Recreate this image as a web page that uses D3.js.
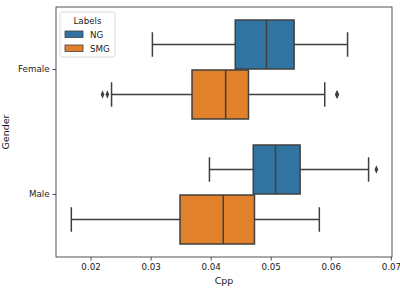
<!DOCTYPE html>
<html>
<head>
<meta charset="utf-8">
<script src="https://cdn.jsdelivr.net/npm/d3@7"></script>
<style>
  body { margin: 0; background: #fff; }
  text { font-family: "DejaVu Sans", sans-serif; fill: #1a1a1a; }
</style>
</head>
<body>
<div id="chart"></div>
<script>
// categories and hue labels
var genders = ["Female", "Male"];
var labels = ["NG", "SMG"];
var colors = ["#3274a1", "#e1812c"];
var xTicks = [0.02, 0.03, 0.04, 0.05, 0.06, 0.07];

// box stats per gender: [whiskerLow, q1, median, q3, whiskerHigh]
var ngStats = [
  [0.0303, 0.0441, 0.0493, 0.0539, 0.0628],
  [0.0398, 0.0471, 0.0508, 0.0549, 0.0663]
];
var smgStats = [
  [0.0235, 0.0369, 0.0425, 0.0463, 0.0590],
  [0.0168, 0.0349, 0.0421, 0.0473, 0.0581]
];
var ngOutliers = [[], [0.0676]];
var smgOutliers = [[0.0220, 0.0228, 0.0610, 0.0611], []];

var W = 400, H = 289;
var margin = {top: 7, right: 8, bottom: 32, left: 56};
var width = W - margin.left - margin.right,
    height = H - margin.top - margin.bottom;

var svg = d3.select("#chart").append("svg")
    .attr("width", W).attr("height", H)
  .append("g")
    .attr("transform", "translate(" + margin.left + "," + margin.top + ")");

var x = d3.scaleLinear().domain([0.01425, 0.0702]).range([0, width]);
var y = d3.scaleBand().domain(genders).range([0, height]);
var hue = d3.scaleBand().domain(labels).range([0, y.bandwidth() * 0.8]);
var lineCol = "#3f3f3f";

var rows = [];
genders.forEach(function(g, i) {
  rows.push({g: g, label: "NG", s: ngStats[i], out: ngOutliers[i]});
  rows.push({g: g, label: "SMG", s: smgStats[i], out: smgOutliers[i]});
});

rows.forEach(function(r) {
  var top = y(r.g) + y.bandwidth() * 0.1 + hue(r.label);
  var bh = hue.bandwidth() * 0.98;
  top += hue.bandwidth() * 0.01;
  var cy = top + bh / 2;
  var g = svg.append("g");
  var s = r.s;
  // whiskers
  g.append("line").attr("x1", x(s[0])).attr("x2", x(s[1])).attr("y1", cy).attr("y2", cy);
  g.append("line").attr("x1", x(s[3])).attr("x2", x(s[4])).attr("y1", cy).attr("y2", cy);
  // caps
  [s[0], s[4]].forEach(function(v) {
    g.append("line").attr("x1", x(v)).attr("x2", x(v))
      .attr("y1", cy - bh / 4).attr("y2", cy + bh / 4);
  });
  g.selectAll("line").attr("stroke", lineCol).attr("stroke-width", 1.5);
  g.append("rect")
    .attr("x", x(s[1])).attr("y", top)
    .attr("width", x(s[3]) - x(s[1])).attr("height", bh)
    .attr("fill", colors[labels.indexOf(r.label)])
    .attr("stroke", lineCol).attr("stroke-width", 1.5);
  g.append("line").attr("x1", x(s[2])).attr("x2", x(s[2]))
    .attr("y1", top).attr("y2", top + bh)
    .attr("stroke", lineCol).attr("stroke-width", 1.5);
  g.selectAll("path.flier").data(r.out).enter().append("path")
    .attr("class", "flier")
    .attr("d", d3.symbol(d3.symbolDiamond, 20))
    .attr("transform", function(d) { return "translate(" + x(d) + "," + cy + ") scale(0.75,1)"; })
    .attr("fill", lineCol);
});

// axes
var xAxis = svg.append("g")
    .attr("transform", "translate(0," + height + ")")
    .call(d3.axisBottom(x).tickValues(xTicks).tickSize(3.5).tickPadding(3)
      .tickFormat(d3.format(".2f")));
var yAxis = svg.append("g")
    .call(d3.axisLeft(y).tickSize(3.5).tickPadding(3));
[xAxis, yAxis].forEach(function(a) {
  a.select(".domain").remove();
  a.selectAll("line").attr("stroke", "#262626").attr("stroke-width", 0.8);
  a.selectAll("text").style("font-size", "8.7px").attr("fill", "#1a1a1a");
});

svg.append("rect")
    .attr("width", width).attr("height", height)
    .attr("fill", "none").attr("stroke", "#262626").attr("stroke-width", 0.8);

svg.append("text")
    .attr("x", width / 2).attr("y", height + 27)
    .attr("text-anchor", "middle").style("font-size", "9.5px").text("Cpp");
svg.append("text")
    .attr("transform", "translate(" + (-47) + "," + (height / 2) + ") rotate(-90)")
    .attr("text-anchor", "middle").style("font-size", "9.5px").text("Gender");

// legend
var leg = svg.append("g").attr("transform", "translate(4,5)");
leg.append("rect")
    .attr("width", 55).attr("height", 45).attr("rx", 2)
    .attr("fill", "#fff").attr("fill-opacity", 0.8)
    .attr("stroke", "#d0d0d0").attr("stroke-width", 0.8);
leg.append("text").attr("x", 27.5).attr("y", 12)
    .attr("text-anchor", "middle").style("font-size", "8.7px").text("Labels");
labels.forEach(function(l, i) {
  leg.append("rect")
      .attr("x", 5).attr("y", 19 + i * 14).attr("width", 18).attr("height", 6.5)
      .attr("fill", colors[i]).attr("stroke", lineCol).attr("stroke-width", 0.8);
  leg.append("text").attr("x", 30).attr("y", 25.5 + i * 14)
      .style("font-size", "8.7px").text(l);
});
</script>
</body>
</html>
